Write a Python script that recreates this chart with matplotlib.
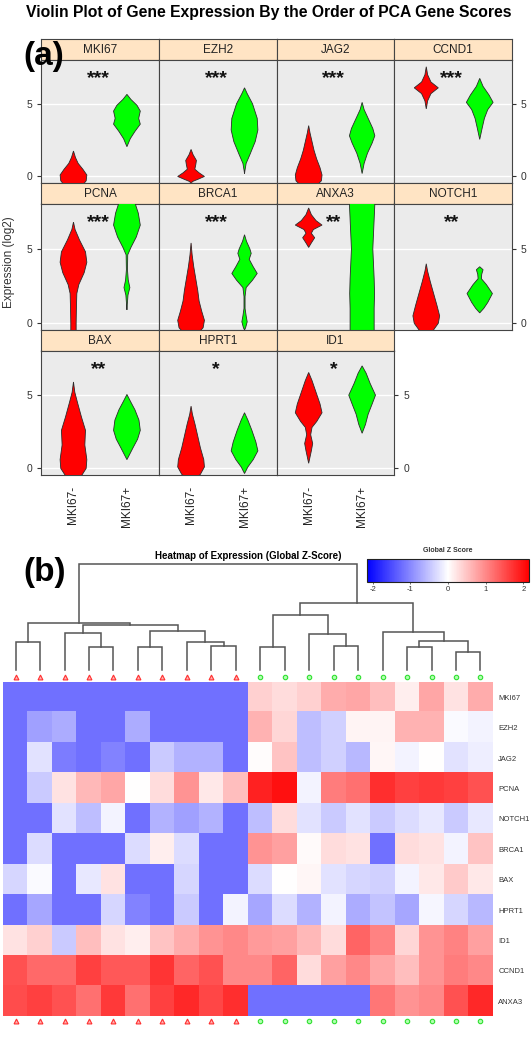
import numpy as np
import matplotlib
matplotlib.use('Agg')
import matplotlib.pyplot as plt
from matplotlib.colors import LinearSegmentedColormap, Normalize

plt.rcParams['font.family'] = ['Liberation Sans', 'DejaVu Sans']
plt.rcParams['axes.unicode_minus'] = False

W, H = 532, 1050

# --- panel (a) : violins -------------------------------------------------
genes = ['MKI67', 'EZH2', 'JAG2', 'CCND1', 'PCNA', 'BRCA1', 'ANXA3',
         'NOTCH1', 'BAX', 'HPRT1', 'ID1']
stars = ['***', '***', '***', '***', '***', '***', '**', '**', '**', '*', '*']
groups = ['MKI67-', 'MKI67+']

# violin outlines: (expression, relative width)
red_profiles = {
    'MKI67': [(1.75, 0), (1.3, 0.15), (0.9, 0.35), (0.5, 0.7), (0.1, 1.0), (-0.3, 0.95), (-0.8, 0.5), (-1.2, 0)],
    'EZH2': [(1.86, 0), (1.5, 0.15), (1.1, 0.4), (0.8, 0.35), (0.5, 0.28), (0.25, 0.6), (0.0, 1.0), (-0.2, 0.5), (-0.35, 0.1), (-0.5, 0)],
    'JAG2': [(3.5, 0), (3.0, 0.1), (2.4, 0.25), (1.8, 0.4), (1.2, 0.6), (0.6, 0.85), (0.1, 1.0), (-0.3, 0.95), (-0.8, 0.4), (-1.1, 0)],
    'CCND1': [(7.55, 0), (7.0, 0.1), (6.5, 0.35), (6.1, 0.9), (5.7, 0.35), (5.2, 0.1), (4.65, 0)],
    'PCNA': [(6.8, 0), (6.3, 0.12), (5.6, 0.45), (4.8, 0.9), (4.1, 1.0), (3.4, 0.8), (2.6, 0.4), (2.0, 0.25), (1.0, 0.22), (0.0, 0.2), (-0.8, 0.2), (-1.2, 0)],
    'BRCA1': [(5.4, 0), (4.6, 0.08), (3.8, 0.2), (3.0, 0.35), (2.2, 0.5), (1.5, 0.6), (0.8, 0.8), (0.2, 1.0), (-0.3, 0.9), (-0.8, 0.4), (-1.1, 0)],
    'ANXA3': [(7.75, 0), (7.3, 0.2), (6.9, 0.55), (6.6, 1.0), (6.3, 0.35), (6.05, 0.2), (5.75, 0.45), (5.4, 0.2), (5.1, 0)],
    'NOTCH1': [(4.0, 0), (3.5, 0.1), (2.8, 0.3), (2.0, 0.55), (1.2, 0.8), (0.5, 1.0), (0.0, 0.9), (-0.5, 0.5), (-0.9, 0)],
    'BAX': [(5.9, 0), (5.2, 0.1), (4.5, 0.3), (3.5, 0.6), (2.6, 0.9), (1.6, 0.85), (0.6, 1.0), (0.0, 0.95), (-0.5, 0.6), (-0.9, 0)],
    'HPRT1': [(4.25, 0), (3.7, 0.1), (3.0, 0.3), (2.2, 0.5), (1.4, 0.7), (0.6, 0.95), (0.1, 1.0), (-0.4, 0.7), (-0.9, 0)],
    'ID1': [(6.55, 0), (6.0, 0.25), (5.2, 0.55), (4.4, 0.85), (3.8, 1.0), (3.2, 0.6), (2.8, 0.25), (2.3, 0.15), (1.7, 0.3), (1.2, 0.2), (0.35, 0)],
}
green_profiles = {
    'MKI67': [(5.65, 0), (5.3, 0.3), (4.9, 0.75), (4.5, 1.0), (4.0, 0.88), (3.6, 1.0), (3.1, 0.6), (2.6, 0.25), (2.05, 0)],
    'EZH2': [(6.1, 0), (5.7, 0.2), (5.0, 0.6), (4.0, 0.95), (3.2, 1.0), (2.4, 0.8), (1.5, 0.4), (0.9, 0.12), (0.4, 0.03), (0.2, 0)],
    'JAG2': [(5.1, 0), (4.6, 0.15), (4.0, 0.45), (3.3, 0.8), (2.8, 0.95), (2.3, 0.75), (1.6, 0.4), (0.9, 0.15), (0.2, 0)],
    'CCND1': [(6.75, 0), (6.2, 0.25), (5.6, 0.7), (5.1, 1.0), (4.6, 0.6), (4.0, 0.35), (3.4, 0.2), (2.55, 0)],
    'PCNA': [(9.1, 0), (8.6, 0.3), (8.1, 0.6), (7.4, 0.85), (6.6, 1.0), (5.8, 0.7), (5.1, 0.3), (4.6, 0.06), (3.6, 0.04), (2.9, 0.1), (2.4, 0.22), (1.9, 0.08), (1.3, 0.03), (0.9, 0)],
    'BRCA1': [(5.95, 0), (5.5, 0.15), (5.0, 0.4), (4.7, 0.5), (4.3, 0.35), (3.8, 0.65), (3.35, 0.95), (2.9, 0.6), (2.4, 0.12), (1.8, 0.04), (1.0, 0.04), (0.5, 0.12), (0.1, 0.2), (-0.3, 0.08), (-0.45, 0)],
    'ANXA3': [(9.5, 0.95), (8.0, 0.95), (7.0, 0.9), (6.0, 0.85), (5.0, 0.8), (4.0, 0.85), (3.0, 0.9), (2.0, 0.93), (1.0, 0.9), (0.0, 0.9), (-0.6, 0.9), (-1.2, 0.5), (-2.0, 0)],
    'NOTCH1': [(3.8, 0), (3.6, 0.25), (3.3, 0.15), (3.0, 0.12), (2.6, 0.5), (2.0, 0.95), (1.4, 0.6), (1.0, 0.3), (0.7, 0)],
    'BAX': [(5.05, 0), (4.6, 0.25), (4.0, 0.6), (3.3, 0.9), (2.6, 1.0), (2.0, 0.8), (1.4, 0.45), (0.6, 0)],
    'HPRT1': [(3.8, 0), (3.3, 0.25), (2.6, 0.55), (1.8, 0.85), (1.2, 1.0), (0.6, 0.65), (0.1, 0.25), (-0.35, 0)],
    'ID1': [(7.0, 0), (6.5, 0.3), (5.8, 0.6), (5.0, 1.0), (4.4, 0.75), (3.7, 0.45), (3.0, 0.25), (2.4, 0)],
}

# --- panel (b) : heatmap -------------------------------------------------
heat_genes = ['MKI67', 'EZH2', 'JAG2', 'PCNA', 'NOTCH1', 'BRCA1', 'BAX',
              'HPRT1', 'ID1', 'CCND1', 'ANXA3']
sample_group = [0] * 10 + [1] * 10   # 0 = MKI67-, 1 = MKI67+
zscores = np.array([
    [-1.2, -1.2, -1.2, -1.2, -1.2, -1.2, -1.2, -1.2, -1.2, -1.2, 0.4, 0.3, 0.4, 0.7, 0.75, 0.55, 0.15, 0.75, 0.25, 0.7],
    [-1.2, -0.8, -0.7, -1.2, -1.2, -0.7, -1.2, -1.2, -1.2, -1.2, 0.65, 0.35, -0.55, -0.4, 0.1, 0.1, 0.65, 0.65, -0.05, -0.1],
    [-1.2, -0.25, -1.1, -1.2, -1.05, -1.2, -0.45, -0.65, -0.65, -1.2, 0.03, 0.5, -0.55, -0.4, -0.6, 0.08, -0.1, 0.0, -0.25, -0.15],
    [-1.2, -0.45, 0.25, 0.6, 0.75, 0.0, 0.3, 0.9, 0.2, 0.55, 1.85, 2.0, -0.1, 1.1, 1.2, 1.75, 1.6, 1.65, 1.6, 1.45],
    [-1.2, -1.2, -0.25, -0.55, -0.1, -1.2, -0.65, -0.8, -0.65, -1.2, -0.55, 0.3, -0.25, -0.45, -0.25, -0.45, -0.3, -0.2, -0.45, -0.2],
    [-1.2, -0.3, -1.2, -1.2, -1.2, -0.3, 0.15, -0.3, -1.2, -1.2, 0.9, 0.8, 0.05, 0.3, 0.25, -1.2, 0.3, 0.25, -0.1, 0.5],
    [-0.35, -0.05, -1.2, -0.2, 0.25, -1.2, -1.2, -0.35, -1.2, -1.2, -0.3, 0.0, 0.08, -0.25, -0.35, -0.4, -0.1, 0.2, 0.45, 0.2],
    [-1.2, -0.75, -1.2, -1.2, -0.35, -1.05, -1.2, -0.45, -1.2, -0.1, -0.75, -0.3, -0.65, -0.1, -0.7, -0.5, -0.75, -0.08, -0.35, -0.6],
    [0.25, 0.4, -0.45, 0.55, 0.25, 0.15, 0.5, 0.7, 0.9, 1.0, 0.85, 0.8, 0.6, 0.3, 1.3, 1.05, 0.35, 0.9, 1.05, 0.8],
    [1.45, 1.25, 1.25, 1.6, 1.4, 1.4, 1.7, 1.3, 1.45, 1.0, 1.0, 1.3, 0.3, 0.8, 1.0, 0.75, 0.55, 0.9, 1.1, 1.0],
    [1.5, 1.6, 1.45, 1.2, 1.65, 1.2, 1.6, 1.8, 1.55, 1.75, -1.2, -1.2, -1.2, -1.2, -1.2, 1.15, 0.9, 1.0, 1.45, 1.8],
])

# dendrogram merges (left child, right child, height); leaves are 0..19
merges = [
    (0, 1, 2.83), (3, 4, 2.33), (2, 21, 3.67), (5, 6, 2.33), (8, 9, 2.43),
    (7, 24, 2.83), (23, 25, 3.93), (22, 26, 4.5), (20, 27, 4.7),
    (10, 11, 2.33), (13, 14, 2.4), (12, 30, 3.6), (29, 31, 5.5),
    (16, 17, 2.33), (18, 19, 1.83), (33, 34, 2.93), (15, 35, 3.77),
    (32, 36, 6.67), (28, 37, 10.6),
]


def px_axes(fig, left, top, width, height):
    return fig.add_axes([left / W, 1 - (top + height) / H, width / W, height / H])


def draw_violin(ax, xc, prof, color):
    ys = np.array([p[0] for p in prof])
    ws = np.array([p[1] for p in prof]) * 0.25
    xs = np.concatenate([xc + ws, (xc - ws)[::-1]])
    yy = np.concatenate([ys, ys[::-1]])
    ax.fill(xs, yy, facecolor=color, edgecolor='#2b2b2b', linewidth=0.6, zorder=3)


fig = plt.figure(figsize=(W / 100, H / 100), dpi=100)

fig.text(269 / W, 1 - 12 / H, 'Violin Plot of Gene Expression By the Order of PCA Gene Scores',
         ha='center', va='center', fontsize=11.3, fontweight='bold')

col_left = [41.4 + 117.6 * c for c in range(4)]
strip_top = [39, 183, 330]
panel_bot = [183, 330, 475]
strip_h = 20.5
edge = '#444444'

for k, g in enumerate(genes):
    r, c = divmod(k, 4)
    x0 = col_left[c]
    st = px_axes(fig, x0, strip_top[r], 117.6, strip_h)
    st.set_facecolor('#FFE4C4')
    st.set_xticks([])
    st.set_yticks([])
    for s in st.spines.values():
        s.set_color(edge)
    st.text(0.5, 0.45, g, ha='center', va='center', fontsize=8.5, color='#222222',
            transform=st.transAxes)

    top = strip_top[r] + strip_h
    ax = px_axes(fig, x0, top, 117.6, panel_bot[r] - top)
    ax.set_facecolor('#EBEBEB')
    ax.set_xlim(0.4, 2.6)
    ax.set_ylim(-0.45, 8.05)
    for yv in (0, 5):
        ax.axhline(yv, color='white', lw=1.0, zorder=1)
    draw_violin(ax, 1, red_profiles[g], '#FF0000')
    draw_violin(ax, 2, green_profiles[g], '#00FF00')
    ax.text(1.47, 6.75, stars[k], ha='center', va='center', fontsize=14,
            fontweight='bold', color='#111111', zorder=4)
    for s in ax.spines.values():
        s.set_color(edge)
    ax.tick_params(colors='#333333', labelsize=7.5, length=3, width=0.8)
    ax.set_yticks([0, 5])
    last_in_row = (c == 3) or (k == len(genes) - 1)
    ax.tick_params(axis='y', left=(c == 0), labelleft=(c == 0),
                   right=last_in_row, labelright=last_in_row)
    if r == 2:
        ax.set_xticks([1, 2])
        ax.set_xticklabels(groups, rotation=90, fontsize=8.5, color='#222222')
        ax.tick_params(axis='x', length=0, pad=8)
    else:
        ax.set_xticks([])

fig.text(9 / W, 1 - 262 / H, 'Expression (log2)', rotation=90, ha='center', va='center',
         fontsize=8.5, color='#333333')
fig.text(44 / W, 1 - 56 / H, '(a)', ha='center', va='center', fontsize=24, fontweight='bold')
fig.text(45 / W, 1 - 572 / H, '(b)', ha='center', va='center', fontsize=24, fontweight='bold')

# --- heatmap ---------------------------------------------------------------
cmap = LinearSegmentedColormap.from_list('bwr2', ['#0000FF', '#FFFFFF', '#FF0000'])
norm = Normalize(vmin=-2.15, vmax=2.15)
hx0, hx1, hy0, hy1 = 3.4, 492.7, 682, 1038
n_s = zscores.shape[1]
n_g = zscores.shape[0]

hm = px_axes(fig, hx0, hy0, hx1 - hx0, hy1 - hy0)
im = hm.imshow(zscores, cmap=cmap, norm=norm, aspect='auto', interpolation='nearest',
               extent=(-0.5, n_s - 0.5, n_g - 0.5, -0.5))
hm.set_xticks([])
hm.yaxis.tick_right()
hm.set_yticks(range(n_g))
hm.set_yticklabels(heat_genes, fontsize=5.5, color='#333333')
hm.tick_params(axis='y', length=0, pad=4)
for s in hm.spines.values():
    s.set_visible(False)

# group markers above / below the heatmap
for i, grp in enumerate(sample_group):
    if grp == 0:
        kw = dict(marker='^', ms=3.5, mfc='#FFB0B0', mec='#FF3030', mew=0.8)
    else:
        kw = dict(marker='o', ms=3.2, mfc='#B0FFB0', mec='#30E030', mew=0.8)
    hm.plot(i, n_g - 0.5 + 0.15, clip_on=False, ls='none', **kw)

# --- dendrogram --------------------------------------------------------------
dn = px_axes(fig, hx0, 556, hx1 - hx0, 681 - 556)
dn.set_xlim(-0.5, n_s - 0.5)
dn.set_ylim(-1.1, 11.4)
dn.axis('off')
pos = {i: (float(i), 0.0) for i in range(n_s)}
for j, (a, b, h) in enumerate(merges):
    xa, ha_ = pos[a]
    xb, hb = pos[b]
    dn.plot([xa, xa, xb, xb], [ha_, h, h, hb], color='#555555', lw=1.1,
            solid_joinstyle='miter')
    pos[n_s + j] = ((xa + xb) / 2, h)
for i, grp in enumerate(sample_group):
    if grp == 0:
        dn.plot(i, -0.7, marker='^', ms=3.5, mfc='#FFB0B0', mec='#FF3030', mew=0.8)
    else:
        dn.plot(i, -0.7, marker='o', ms=3.2, mfc='#B0FFB0', mec='#30E030', mew=0.8)

fig.text(248 / W, 1 - 556 / H, 'Heatmap of Expression (Global Z-Score)', ha='center',
         va='center', fontsize=7, fontweight='bold')

# colour key
cax = px_axes(fig, 367, 559, 162, 23)
cb = fig.colorbar(im, cax=cax, orientation='horizontal')
cb.set_ticks([-2, -1, 0, 1, 2])
cb.ax.tick_params(labelsize=5.5, length=1.5, width=0.5, pad=1.5, colors='#333333')
cb.outline.set_edgecolor('#222222')
cb.outline.set_linewidth(0.8)
fig.text(448 / W, 1 - 551 / H, 'Global Z Score', ha='center', va='center',
         fontsize=5, fontweight='bold', color='#333333')

fig.savefig('out.png', dpi=100)
